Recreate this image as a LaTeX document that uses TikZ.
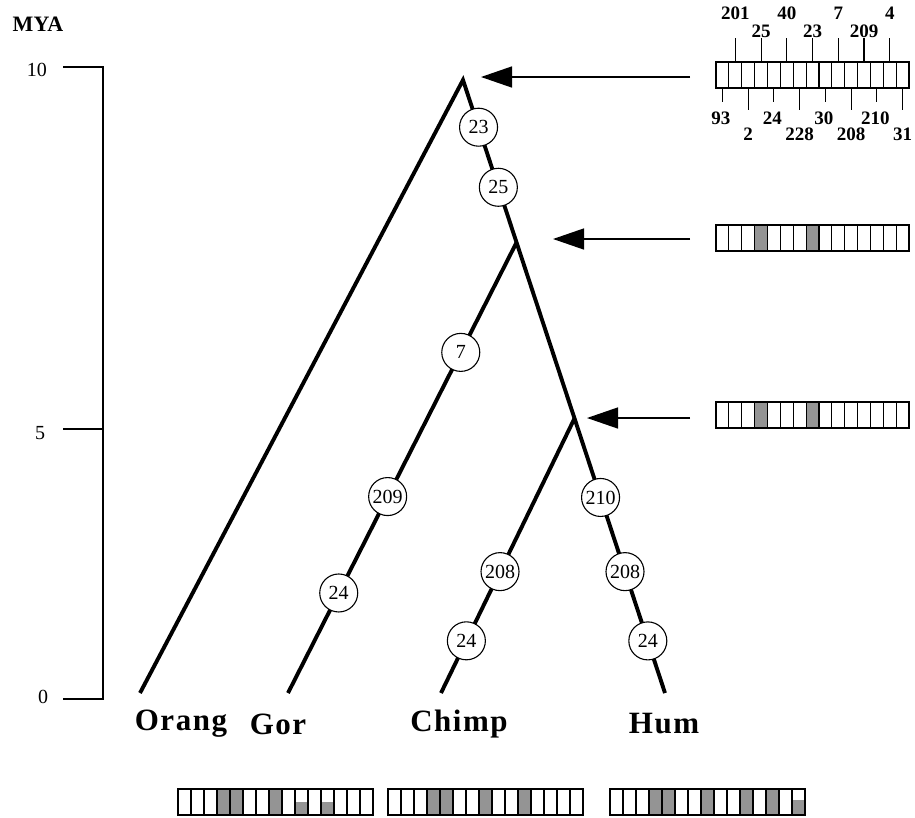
\documentclass[tikz,border=0pt]{standalone}
\usepackage{fontspec}
\setmainfont{Liberation Serif}
\newfontfamily\leaffont[LetterSpace=5]{Liberation Serif}
\usetikzlibrary{arrows.meta,calc}
\begin{document}
\begin{tikzpicture}[x=1pt,y=-1pt,
  branch/.style={line width=3.9pt},
  mut/.style={circle,draw,line width=1.1pt,fill=white,minimum size=38pt,inner sep=0pt,font=\fontsize{20}{20}\selectfont},
  axisline/.style={line width=1.3pt},
  axlab/.style={inner sep=0pt,font=\fontsize{20}{20}\selectfont},
  leaf/.style={inner sep=0pt,font=\fontsize{31}{31}\leaffont\bfseries},
  numlab/.style={inner sep=0pt,font=\fontsize{19}{19}\selectfont\bfseries},
  pointer/.style={line width=1.4pt,-{Triangle[length=31pt,width=21pt]}},
  cellline/.style={line width=1.2pt},
  shaded/.style={fill=black!42},
  tickline/.style={line width=1.1pt}
]
\useasboundingbox (0,0) rectangle (915,817);

% axis
\node[numlab,font=\fontsize{22}{22}\selectfont\bfseries] (mya) at (38,24) {MYA};
\coordinate (axtop) at (103,67);
\coordinate (axmid) at (103,429);
\coordinate (axbot) at (103,699);
\coordinate (t10) at (63,67);
\coordinate (t5) at (63,429);
\coordinate (t0) at (63,699);
\draw[axisline] (t10) -- (axtop) -- (axbot) -- (t0);
\draw[axisline] (t5) -- (axmid);
\node[axlab] (l10) at (37,70) {10};
\node[axlab] (l5) at (40,433) {5};
\node[axlab] (l0) at (43,697) {0};

% tree
\coordinate (root) at (463,80);
\coordinate (orang) at (140,693);
\coordinate (gor) at (288,693);
\coordinate (chimp) at (441,693);
\coordinate (hum) at (665,693);
\coordinate (gh) at ($(root)!0.265!(hum)$);
\coordinate (ch) at ($(root)!0.552!(hum)$);
\draw[branch] (orang) -- (root) -- (hum);
\draw[branch] (gh) -- (gor);
\draw[branch] (ch) -- (chimp);

\node[mut] (m23) at ($(root)!0.077!(hum)$) {23};
\node[mut] (m25) at ($(root)!0.175!(hum)$) {25};
\node[mut] (m210) at ($(root)!0.681!(hum)$) {210};
\node[mut] (m208h) at ($(root)!0.802!(hum)$) {208};
\node[mut] (m24h) at ($(root)!0.915!(hum)$) {24};
\node[mut] (m7) at ($(gh)!0.244!(gor)$) {7};
\node[mut] (m209) at ($(gh)!0.564!(gor)$) {209};
\node[mut] (m24g) at ($(gh)!0.778!(gor)$) {24};
\node[mut] (m208c) at ($(ch)!0.558!(chimp)$) {208};
\node[mut] (m24c) at ($(ch)!0.81!(chimp)$) {24};

% leaf labels
\node[leaf] (lo) at (181,724) {Orang};
\node[leaf] (lg) at (278,724) {Gor};
\node[leaf] (lc) at (459,724) {Chimp};
\node[leaf] (lh) at (664,724) {Hum};

% arrows
\coordinate (a1s) at (690,77);
\coordinate (a1e) at (481,77);
\coordinate (a2s) at (690,239);
\coordinate (a2e) at (553,239);
\coordinate (a3s) at (690,418);
\coordinate (a3e) at (587,418);
\draw[pointer] (a1s) -- (a1e);
\draw[pointer] (a2s) -- (a2e);
\draw[pointer] (a3s) -- (a3e);

% top bar (ancestral)
\def\cw{12.87}
\foreach \k in {1,...,15} \draw[cellline] ({716+(\k-1)*\cw},62) rectangle ++(\cw,26);
\draw[line width=1.6pt] (716,62) rectangle (909,88);
\foreach \k/\lab in {2/201,6/40,10/7,14/4} {
  \draw[tickline] ({716+(\k-0.5)*\cw},38) -- ({716+(\k-0.5)*\cw},62);
  \node[numlab] at ({716+(\k-0.5)*\cw},13.5) {\lab};
}
\foreach \k/\lab in {4/25,8/23,12/209} {
  \draw[tickline] ({716+(\k-0.5)*\cw},38) -- ({716+(\k-0.5)*\cw},62);
  \node[numlab] at ({716+(\k-0.5)*\cw},31.5) {\lab};
}
\foreach \k/\lab in {1/93,5/24,9/30,13/210} {
  \draw[tickline] ({716+(\k-0.5)*\cw},88) -- ({716+(\k-0.5)*\cw},102);
  \node[numlab] at ({716+(\k-0.5)*\cw-1.5},118.5) {\lab};
}
\foreach \k/\lab in {3/2,7/228,11/208,15/31} {
  \draw[tickline] ({716+(\k-0.5)*\cw},88) -- ({716+(\k-0.5)*\cw},110);
  \node[numlab] at ({716+(\k-0.5)*\cw},134) {\lab};
}

% bars 2 and 3
\foreach \yy in {225,402} {
  \foreach \k in {4,8} \fill[shaded] ({716+(\k-1)*\cw},\yy) rectangle ++(\cw,26);
  \foreach \k in {1,...,15} \draw[cellline] ({716+(\k-1)*\cw},\yy) rectangle ++(\cw,26);
  \draw[line width=1.6pt] (716,\yy) rectangle (909,\yy+26);
}

% bottom bars
\def\bw{13}
% Orang
\foreach \k in {4,5,8} \fill[shaded] ({178+(\k-1)*\bw},789) rectangle ++(\bw,26);
\foreach \k in {10,12} \fill[shaded] ({178+(\k-1)*\bw},802) rectangle ++(\bw,13);
% Chimp
\foreach \k in {4,5,8,11} \fill[shaded] ({388+(\k-1)*\bw},789) rectangle ++(\bw,26);
% Hum
\foreach \k in {4,5,8,11,13} \fill[shaded] ({610+(\k-1)*\bw},789) rectangle ++(\bw,26);
\foreach \k in {15} \fill[shaded] ({610+(\k-1)*\bw},800) rectangle ++(\bw,15);
\foreach \xx in {178,388,610} {
  \foreach \k in {1,...,15} \draw[cellline] ({\xx+(\k-1)*\bw},789) rectangle ++(\bw,26);
  \draw[line width=1.6pt] (\xx,789) rectangle (\xx+195,815);
}
\end{tikzpicture}
\end{document}
